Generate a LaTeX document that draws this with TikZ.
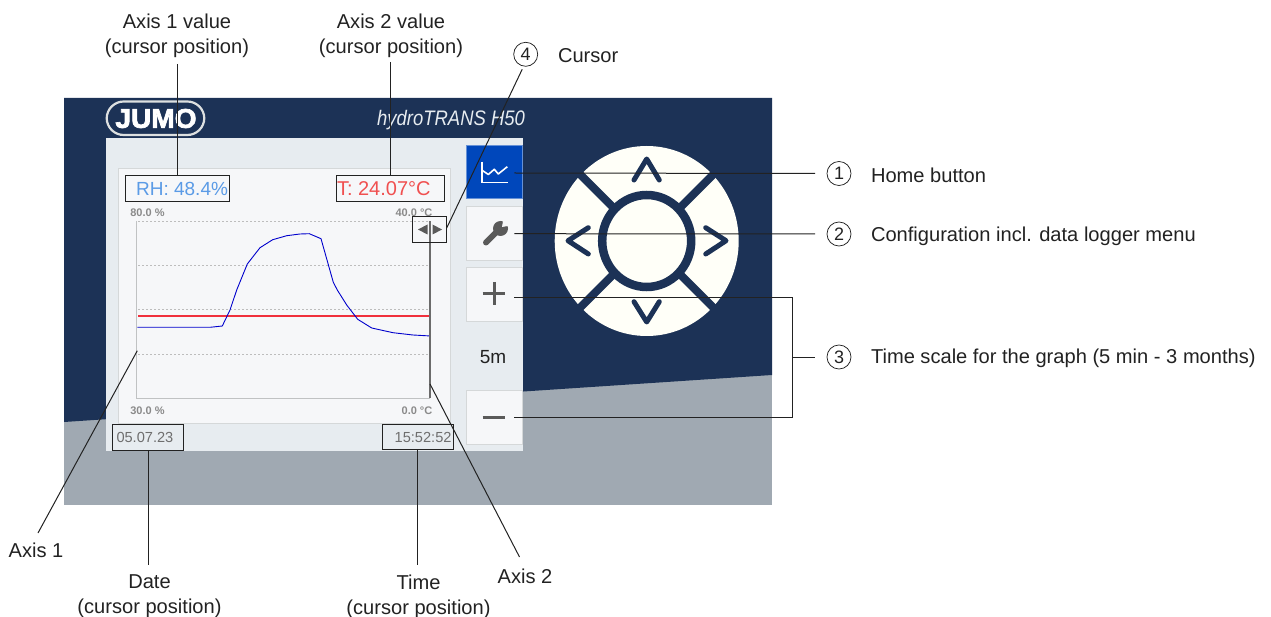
\documentclass[tikz,border=0pt]{standalone}
\usepackage{fontspec}
\usetikzlibrary{calc}
\setmainfont{Liberation Sans}
\newfontfamily\logofont[FakeBold=2.6]{Liberation Sans Bold}
\definecolor{navy}{HTML}{1C3256}
\definecolor{slate}{HTML}{A0A9B2}
\definecolor{panel}{HTML}{E7ECF0}
\definecolor{chartbg}{HTML}{F6F7F9}
\definecolor{edgegrey}{HTML}{D5D8D9}
\definecolor{homeblue}{HTML}{0047BB}
\definecolor{cream}{HTML}{FFFFF8}
\definecolor{icongrey}{HTML}{5A5A5A}
\definecolor{ink}{HTML}{222222}
\definecolor{rhblue}{HTML}{5B9BE6}
\definecolor{tempred}{HTML}{F05050}
\definecolor{curvered}{HTML}{F0303C}
\definecolor{smallgrey}{HTML}{8A8A8A}
\definecolor{gridgrey}{HTML}{BDBDBD}
\tikzset{
  x=1pt,y=-1pt,
  every node/.style={inner sep=0pt,outer sep=0pt,text=ink},
  lab/.style={font=\fontsize{20.1}{25}\selectfont,align=center},
  leader/.style={draw=ink,line width=1pt},
  callout/.style={draw=ink,line width=1pt,minimum width=#1,minimum height=25.5pt,anchor=north west},
  numcirc/.style={circle,draw=ink,line width=.75pt,minimum size=24pt,font=\fontsize{18}{18}\selectfont},
  btn/.style={draw=edgegrey,line width=1pt,fill=chartbg,anchor=north west,minimum width=56pt,minimum height=54pt},
  tick/.style={font=\fontsize{11}{11}\selectfont\bfseries,text=smallgrey},
  grid/.style={draw=gridgrey,line width=.8pt,dash pattern=on 2pt off 2pt},
  chev/.style={draw=navy,line width=5pt,line cap=round,line join=round},
  icon/.style={draw=icongrey,line width=3pt},
}
\begin{document}
\begin{tikzpicture}
\useasboundingbox (0,0) rectangle (1271,617);
% background
\fill[slate] (64,98) rectangle (772,505);
\fill[navy] (64,98) -- (772,98) -- (772,375) -- (64,422) -- cycle;
% panel and chart
\fill[panel] (105.5,138) rectangle (523,451);
\draw[edgegrey,line width=1pt,fill=chartbg] (118,169) rectangle (450.5,423);
% logo
\draw[cream!85!navy,line width=2.2pt,rounded corners=17pt] (106.7,101.5) rectangle (204.3,135);
\node[font=\fontsize{27}{27}\logofont,text=white] (logo) at (156,118.5) {\scalebox{1.04}[1]{JUMO}};
\node[font=\fontsize{21}{21}\selectfont\itshape,text=panel,anchor=east] (model) at (525,120) {\scalebox{.88}[1]{hydroTRANS H50}};
% plot
\draw[edgegrey!90!black,line width=1pt] (136.7,221) -- (136.7,398) -- (430,398);
\draw[grid] (138,221) -- (430,221);
\draw[grid] (138,265.3) -- (430,265.3);
\draw[grid] (138,309.3) -- (430,309.3);
\draw[grid] (138,354) -- (430,354);
\fill[curvered] (138,314.6) rectangle (429,316.6);
\draw[blue!80!black,line width=.9pt,line join=round] (137.3,327.3) -- (210,327.3) -- (222.3,326) -- (230,310) -- (236.7,290) -- (247.3,264) -- (260,247.7) -- (272.7,239.7) -- (286.7,235.7) -- (300,234) -- (309.3,233.7) -- (321,238.7) -- (333.3,282.3) -- (337.3,290) -- (346.7,305) -- (357.7,319.3) -- (371.7,328) -- (393,332.7) -- (413,335) -- (430.7,336);
\draw[icongrey!90,line width=1.4pt] (430,221) -- (430,398);
\node[tick] (t80) at (147.5,213) {80.0 \%};
\node[tick] (t40) at (414,213) {40.0 °C};
\node[tick] (t30) at (147.5,410.5) {30.0 \%};
\node[tick] (t0) at (417,410.5) {0.0 °C};
% cursor handle
\fill[icongrey] (418,229.5) -- (427.5,224.5) -- (427.5,234.5) -- cycle;
\fill[icongrey] (442,229.5) -- (432.5,224.5) -- (432.5,234.5) -- cycle;
% call-out boxes
\node[callout=103.7pt] (rh) at (125.3,176) {};
\node[font=\fontsize{19}{19}\selectfont,text=rhblue,anchor=east] (rhtxt) at (228,189) {RH: 48.4\%};
\node[callout=108pt] (temp) at (336.3,176) {};
\node[font=\fontsize{20}{20}\selectfont,text=tempred,anchor=west] (temptxt) at (337,189) {T: 24.07°C};
\node[callout=34pt] (cur) at (412.7,216.7) {};
\node[callout=71pt] (date) at (112.7,424.7) {};
\node[font=\fontsize{14.6}{14.6}\selectfont,text=smallgrey!80!black,anchor=west] (datetxt) at (116.5,437.5) {05.07.23};
\node[callout=71pt] (time) at (382.3,424.3) {};
\node[font=\fontsize{14.6}{14.6}\selectfont,text=smallgrey!80!black,anchor=east] (timetxt) at (451.5,437.5) {15:52:52};
% buttons
\node[btn,draw=homeblue!60!white,fill=homeblue,minimum height=53.5pt] (bhome) at (466.5,145.5) {};
\node[btn] (bconf) at (466.5,206.7) {};
\node[btn] (bplus) at (466.5,268) {};
\node[btn] (bminus) at (466.5,390.5) {};
\node[font=\fontsize{19}{19}\selectfont] (scale) at (493,357) {5m};
% icons
\draw[white,line width=1.6pt] (481.7,161.7) -- (481.7,182.7) -- (507.7,182.7);
\draw[white,line width=1.6pt,line join=round] (481.7,170) -- (488.3,174.5) -- (494.3,169.3) -- (498.3,174) -- (507.3,166.7);
\draw[icongrey,line width=6pt,line cap=round] (486,242.5) -- (497,231.5);
\fill[icongrey] (500.5,228.5) circle (7.5);
\fill[chartbg] (502,227) -- (503.5,218) -- (511,225.5) -- cycle;
\draw[icon] (494,282) -- (494,305);
\draw[icon] (482.7,294) -- (505,294);
\draw[icon] (482.7,417.7) -- (505,417.7);
% controller
\fill[cream] (646.7,241) ellipse (92 and 95);
\foreach \a in {45,135,225,315}{
  \draw[navy,line width=8pt] ($(646.7,241)+(\a:42)$) -- ($(646.7,241)+(\a:99)$);
}
\draw[navy,line width=8.5pt] (646.7,241) ellipse (44.5 and 46);
\draw[chev] (634,180) -- (646.7,159) -- (659.3,180);
\draw[chev] (588.3,227.7) -- (568,240.7) -- (588.3,254);
\draw[chev] (705.7,227.7) -- (726,240.7) -- (705.7,254);
\draw[chev] (634,301.7) -- (646.7,322) -- (659.3,301.7);
% labels
\node[lab] (ax1v) at (177,36) {Axis 1 value\\(cursor position)};
\node[lab] (ax2v) at (391,36) {Axis 2 value\\(cursor position)};
\node[numcirc] (n4) at (525.7,54.3) {4};
\node[lab,anchor=west] (lcur) at (558,55.5) {Cursor};
\node[numcirc] (n1) at (839,173.5) {1};
\node[lab,anchor=west] (lhome) at (871,175) {Home button};
\node[numcirc] (n2) at (839,234) {2};
\node[lab,anchor=west] (lconf) at (871,236) {Configuration incl. data logger menu};
\node[numcirc] (n3) at (839,357) {3};
\node[lab,anchor=west] (ltime) at (871,358) {Time scale for the graph (5 min - 3 months)};
\node[lab] (lax1) at (36,550.5) {Axis 1};
\node[lab] (lax2) at (525,576.5) {Axis 2};
\node[lab] (ldate) at (149.5,596.5) {Date\\(cursor position)};
\node[lab] (ltimec) at (418.5,596.5) {Time\\(cursor position)};
% leaders
\coordinate (curend) at (446.7,228);
\coordinate (ax1pt) at (137.3,350.7);
\coordinate (ax1foot) at (38,533);
\coordinate (ax2pt) at (430,384);
\coordinate (ax2foot) at (519.5,557);
\coordinate (homept) at (514.3,173);
\coordinate (confpt) at (514.3,233.7);
\coordinate (pluspt) at (514.3,297.3);
\coordinate (minuspt) at (514.3,417);
\coordinate (bus) at (792,357);
\coordinate (ax2top) at (390,62);
\coordinate (ax2end) at (390,176);
\coordinate (datefoot) at (148,565);
\coordinate (datehead) at (148,450.2);
\coordinate (timefoot) at (417,565);
\coordinate (timehead) at (417,449.8);
\draw[leader] (rh.north |- ax1v.south) ++(0,6) -- (rh.north);
\draw[leader] (ax2top) -- (ax2end);
\draw[leader] (n4.south) ++(-3.5,3) -- (curend);
\draw[leader] (homept) -- ($(n1.west)+(-12,0)$);
\draw[leader] (confpt) -- ($(n2.west)+(-12,0)$);
\draw[leader] (pluspt) -| (bus);
\draw[leader] (minuspt) -| (bus);
\draw[leader] (bus) -- ($(n3.west)+(-12,0)$);
\draw[leader] (ax1pt) -- (ax1foot);
\draw[leader] (ax2pt) -- (ax2foot);
\draw[leader] (datehead) -- (datefoot);
\draw[leader] (timehead) -- (timefoot);
\end{tikzpicture}
\end{document}
